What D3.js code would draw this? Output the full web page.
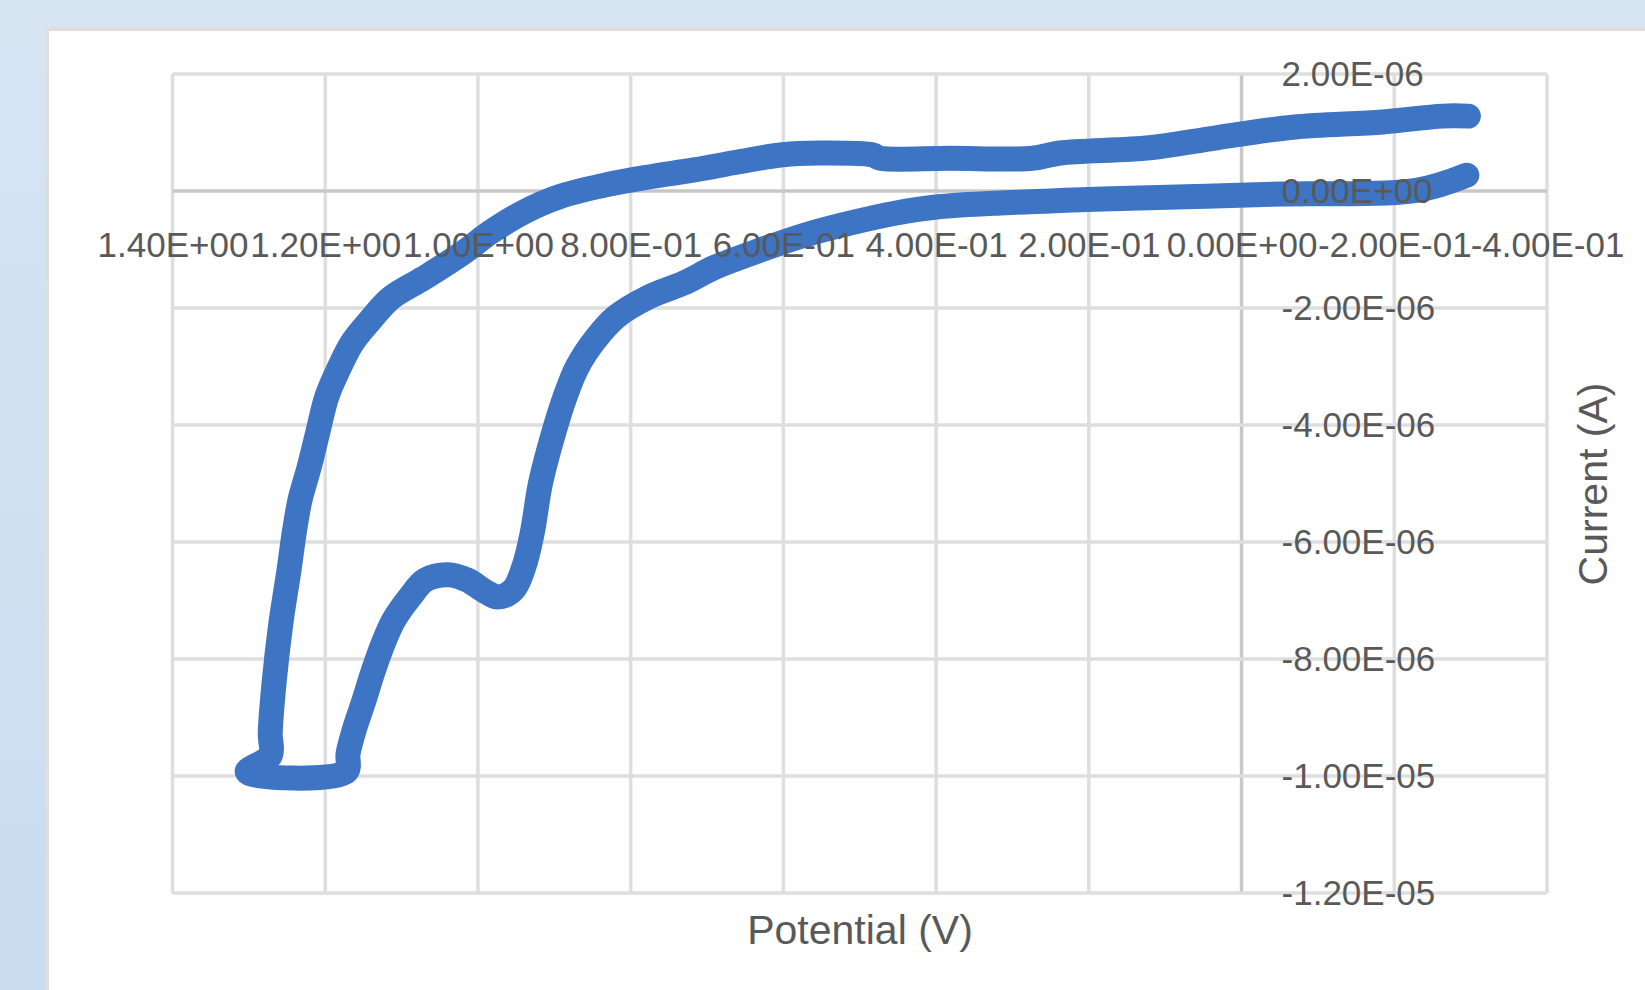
<!DOCTYPE html>
<html>
<head>
<meta charset="utf-8">
<script src="https://cdn.jsdelivr.net/npm/d3@7"></script>
<style>
  html, body { margin: 0; padding: 0; background: #d5e4f2; }
  svg { display: block; }
  text { font-family: "Liberation Sans", Arial, sans-serif; fill: #595959; }
</style>
</head>
<body>
<div id="chart"></div>
<script>
// cyclic voltammogram (potential in V, current in A)
const potential = [
  -0.295, -0.229, -0.054, 0.046, 0.133, 0.191, 0.250, 0.309, 0.397, 0.454,
  0.513, 0.571, 0.630, 0.689, 0.730, 0.776, 0.819, 0.847, 0.870, 0.886,
  0.901, 0.918, 0.929, 0.940, 0.954, 0.974, 0.990, 1.014, 1.039, 1.069,
  1.089, 1.110, 1.124, 1.138, 1.149, 1.162, 1.170, 1.173, 1.302, 1.272,
  1.272, 1.267, 1.258, 1.248, 1.240, 1.233, 1.221, 1.210, 1.198, 1.183,
  1.165, 1.141, 1.114, 1.071, 1.020, 0.983, 0.940, 0.894, 0.834, 0.776,
  0.717, 0.658, 0.601, 0.554, 0.484, 0.473, 0.382, 0.274, 0.238, 0.120,
  0.033, -0.067, -0.185, -0.263, -0.297
];
const current = [
  0.27e-6, 0.01e-6, -0.05e-6, -0.09e-6, -0.12e-6, -0.14e-6, -0.17e-6, -0.20e-6, -0.27e-6, -0.38e-6,
  -0.55e-6, -0.75e-6, -1.01e-6, -1.30e-6, -1.57e-6, -1.81e-6, -2.15e-6, -2.55e-6, -3.01e-6, -3.52e-6,
  -4.14e-6, -4.99e-6, -5.85e-6, -6.43e-6, -6.82e-6, -6.94e-6, -6.85e-6, -6.65e-6, -6.56e-6, -6.65e-6,
  -6.94e-6, -7.33e-6, -7.73e-6, -8.24e-6, -8.70e-6, -9.21e-6, -9.61e-6, -9.93e-6, -9.93e-6, -9.65e-6,
  -9.26e-6, -8.41e-6, -7.38e-6, -6.53e-6, -5.79e-6, -5.28e-6, -4.72e-6, -4.14e-6, -3.52e-6, -3.06e-6,
  -2.60e-6, -2.21e-6, -1.83e-6, -1.49e-6, -1.06e-6, -0.70e-6, -0.36e-6, -0.10e-6, 0.10e-6, 0.24e-6,
  0.36e-6, 0.50e-6, 0.62e-6, 0.65e-6, 0.62e-6, 0.56e-6, 0.56e-6, 0.56e-6, 0.65e-6, 0.74e-6,
  0.91e-6, 1.09e-6, 1.18e-6, 1.28e-6, 1.28e-6
];

const xTicks = [1.4, 1.2, 1.0, 0.8, 0.6, 0.4, 0.2, 0, -0.2, -0.4];
const xTickLabels = ['1.40E+00', '1.20E+00', '1.00E+00', '8.00E-01', '6.00E-01',
  '4.00E-01', '2.00E-01', '0.00E+00', '-2.00E-01', '-4.00E-01'];
const yTicks = [2e-6, 0, -2e-6, -4e-6, -6e-6, -8e-6, -1e-5, -1.2e-5];
const yTickLabels = ['2.00E-06', '0.00E+00', '-2.00E-06', '-4.00E-06', '-6.00E-06',
  '-8.00E-06', '-1.00E-05', '-1.20E-05'];

const W = 1645, H = 990;
const plot = {left: 172.5, right: 1547, top: 74, bottom: 893};

const svg = d3.select('#chart')
  .append('svg')
    .attr('width', W)
    .attr('height', H);

// light blue page (a bit deeper at the bottom) and white chart panel
const grad = svg.append('defs')
  .append('linearGradient')
    .attr('id', 'page')
    .attr('x1', 0).attr('y1', 0)
    .attr('x2', 0).attr('y2', 1);
grad.append('stop').attr('offset', 0).attr('stop-color', '#d7e5f3');
grad.append('stop').attr('offset', 1).attr('stop-color', '#c9dcf0');

svg.append('rect')
  .attr('width', W).attr('height', H)
  .attr('fill', 'url(#page)');
svg.append('rect')
  .attr('x', 47).attr('y', 29)
  .attr('width', W).attr('height', H)
  .attr('fill', '#fff')
  .attr('stroke', '#dedede')
  .attr('stroke-width', 4);

const x = d3.scaleLinear()
  .domain([1.4, -0.4])
  .range([plot.left, plot.right]);
const y = d3.scaleLinear()
  .domain([2e-6, -1.2e-5])
  .range([plot.top, plot.bottom]);

// gridlines
svg.append('g')
  .selectAll('line')
  .data(xTicks)
  .join('line')
    .attr('x1', d => x(d)).attr('x2', d => x(d))
    .attr('y1', plot.top).attr('y2', plot.bottom)
    .attr('stroke', d => d === 0 ? '#c8c8c8' : '#dedede')
    .attr('stroke-width', 3.5);
svg.append('g')
  .selectAll('line')
  .data(yTicks)
  .join('line')
    .attr('x1', plot.left).attr('x2', plot.right)
    .attr('y1', d => y(d)).attr('y2', d => y(d))
    .attr('stroke', d => d === 0 ? '#c8c8c8' : '#dedede')
    .attr('stroke-width', 3.5);

// the curve
const pts = potential.map((v, i) => [v, current[i]]);
const line = d3.line()
  .x(d => x(d[0]))
  .y(d => y(d[1]))
  .curve(d3.curveCatmullRom.alpha(0.5));
svg.append('path')
  .datum(pts)
  .attr('d', line)
  .attr('fill', 'none')
  .attr('stroke', '#3d74c4')
  .attr('stroke-width', 25)
  .attr('stroke-linecap', 'round')
  .attr('stroke-linejoin', 'round');

// x axis labels, hanging under the zero line
const xAxis = svg.append('g')
  .attr('transform', `translate(0,${y(0)})`)
  .call(d3.axisBottom(x)
    .tickValues(xTicks)
    .tickFormat((d, i) => xTickLabels[i])
    .tickSize(0)
    .tickPadding(41));
xAxis.select('.domain').remove();
xAxis.selectAll('text')
  .attr('font-size', 35)
  .attr('font-family', null)
  .attr('fill', '#595959');

// y axis labels, on the right of the x=0 line
const yAxis = svg.append('g')
  .attr('transform', `translate(${x(0)},0)`)
  .call(d3.axisRight(y)
    .tickValues(yTicks)
    .tickFormat((d, i) => yTickLabels[i])
    .tickSize(0)
    .tickPadding(40));
yAxis.select('.domain').remove();
yAxis.selectAll('text')
  .attr('font-size', 35)
  .attr('font-family', null)
  .attr('fill', '#595959');

// axis titles
svg.append('text')
  .attr('x', 860)
  .attr('y', 944)
  .attr('text-anchor', 'middle')
  .attr('font-size', 41)
  .text('Potential (V)');

svg.append('text')
  .attr('transform', 'translate(1607,484) rotate(-90)')
  .attr('text-anchor', 'middle')
  .attr('font-size', 41)
  .text('Current (A)');
</script>
</body>
</html>
